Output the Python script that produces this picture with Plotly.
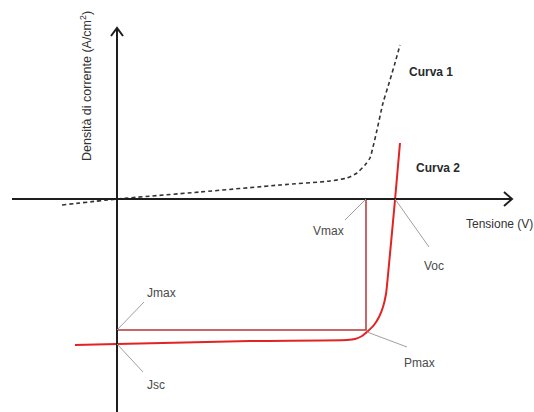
import plotly.graph_objects as go

# Schematic J-V characteristic of a solar cell (arbitrary units, origin at axes crossing)
curve1_v = [-55, 0, 83, 163, 213, 230, 240, 248, 253, 256, 260, 266, 273, 278, 283]
curve1_j = [-6, 0, 7, 14, 18, 21, 26, 34, 41, 52, 69, 96, 119, 136, 154]

curve2_v = [-42, 0, 133, 230, 238, 245, 251, 257, 262, 266, 269, 271, 278, 283]
curve2_j = [-146, -145, -142, -141, -140, -137, -132, -126, -118, -108, -95, -76, -1, 56]

v_max = 249
j_max = -131
v_oc = 278
j_sc = -145

x_range = [-117, 417]
y_range = [-213, 199]

AXIS = "#1e1e1e"
RED = "#e32222"
RECT = "#b83535"
LEAD = "#a0a0a0"
TXT = "#4a4a4a"
FONT = "Liberation Sans, Arial, sans-serif"

fig = go.Figure()

# Curva 1 (dashed)
fig.add_trace(go.Scatter(x=curve1_v, y=curve1_j, mode="lines",
                         line=dict(color="#333333", width=1.6, dash="4px,3px",
                                   shape="spline", smoothing=0.6),
                         hoverinfo="skip"))

# Max power rectangle
fig.add_trace(go.Scatter(x=[0, v_max, v_max], y=[j_max, j_max, 0], mode="lines",
                         line=dict(color=RECT, width=1.5), hoverinfo="skip"))

# Curva 2 (red)
fig.add_trace(go.Scatter(x=curve2_v, y=curve2_j, mode="lines",
                         line=dict(color=RED, width=2, shape="spline", smoothing=0.6),
                         hoverinfo="skip"))

shapes = []
# axes
shapes.append(dict(type="line", x0=-105, y0=0, x1=395, y1=0,
                   line=dict(color=AXIS, width=2)))
shapes.append(dict(type="line", x0=0, y0=-213, x1=0, y1=171,
                   line=dict(color=AXIS, width=2)))
# arrow chevrons
shapes.append(dict(type="path", path="M 387,7 L 395,0 L 387,-7",
                   line=dict(color=AXIS, width=2)))
shapes.append(dict(type="path", path="M -6,163 L 0,171 L 6,163",
                   line=dict(color=AXIS, width=2)))

# leader lines
leaders = [
    (v_max, 0, v_max - 21, -21),      # Vmax
    (v_oc, 0, v_oc + 34, -48),        # Voc
    (v_max + 1, j_max - 2, 290, -148),  # Pmax
    (0, j_max, 27, -103),             # Jmax
    (0, j_sc, 26, -173),              # Jsc
]
for x0, y0, x1, y1 in leaders:
    shapes.append(dict(type="line", x0=x0, y0=y0, x1=x1, y1=y1,
                       line=dict(color=LEAD, width=1)))

annotations = []

def label(text, x, y, size=12, color=TXT, bold=False, angle=0):
    annotations.append(dict(text=f"<b>{text}</b>" if bold else text, x=x, y=y,
                            xref="x", yref="y", showarrow=False, textangle=angle,
                            font=dict(family=FONT, size=size, color=color)))

label("Vmax", 211, -32)
label("Voc", 317, -67)
label("Pmax", 302, -164)
label("Jmax", 44, -94)
label("Jsc", 39, -186)
label("Curva 1", 314, 127, color="#2a2a2a", bold=True)
label("Curva 2", 321, 31, color="#2a2a2a", bold=True)
label("Tensione (V)", 382, -25, color="#333333")
label("Densità di corrente (A/cm<sup>2</sup>)", -31, 113, size=12.5,
      color="#333333", angle=-90)

fig.update_layout(
    width=534, height=412,
    margin=dict(l=0, r=0, t=0, b=0),
    paper_bgcolor="white", plot_bgcolor="white",
    showlegend=False,
    xaxis=dict(range=x_range, visible=False, fixedrange=True),
    yaxis=dict(range=y_range, visible=False, fixedrange=True),
    shapes=shapes, annotations=annotations,
)

fig.write_html("out.html")
